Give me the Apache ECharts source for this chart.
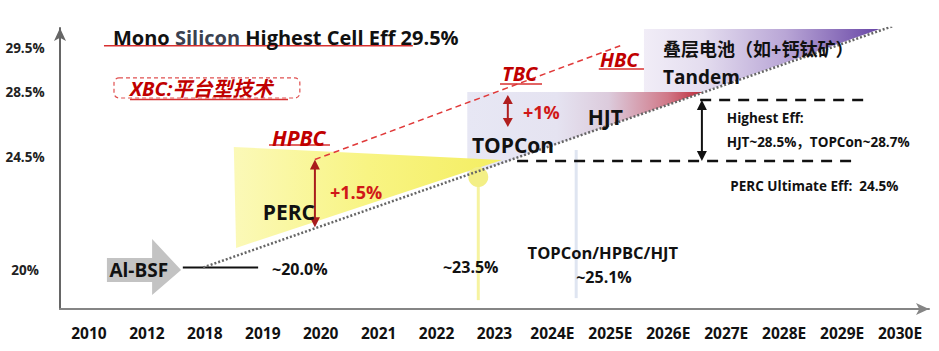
<!DOCTYPE html>
<html><head><meta charset="utf-8">
<script src="https://cdn.jsdelivr.net/npm/echarts@6/dist/echarts.min.js"></script>
<style>html,body{margin:0;padding:0;background:#fff}#c{width:939px;height:351px}</style>
</head><body><div id="c"></div>
<script>
// ---------- data ----------
const years = ['2010','2012','2018','2019','2020','2021','2022','2023','2024E','2025E','2026E','2027E','2028E','2029E','2030E'];
const yTickEffs = [20, 24.5, 28.5, 29.5];
const yTickLabels = ['20%','24.5%','28.5%','29.5%'];

// points are [year index, efficiency %]
const baselineTrend = [[1.97,20.1],[13.88,30.0]];
const xbcTrend = [[3.9,24.4],[9.17,29.55]];
const alBsfLevel = [[1.62,20.1],[2.92,20.1]];
const alBsfArrow = [[0.31,20.48],[1.09,20.48],[1.09,21.23],[1.59,20.0],[1.09,19.0],[1.09,19.52],[0.31,19.52]];
const percArea = [[2.50,25.12],[7.13,24.38],[2.54,20.88]];
const topconHjtArea = [[6.53,28.5],[10.6,28.5],[6.53,23.76]];
const tandemArea = [[9.58,29.93],[13.65,29.93],[10.6,28.5],[9.58,28.5]];
const perc2023Dot = [6.72,23.70];
const perc2023Stem = [[6.72,23.70],[6.72,18.8]];
const topcon2024Stem = [[8.41,24.93],[8.41,18.88]];
const highestEffLine = [[10.55,28.01],[13.43,28.01]];
const percLimitLine = [[7.39,24.34],[13.26,24.34]];
const highestEffGap = [[10.58,28.01],[10.58,24.34]];
const hpbcGain = [[3.9,24.4],[3.9,21.7]];
const tbcGain = [[7.23,28.32],[7.23,26.35]];

// ---------- axis scale (non-linear efficiency axis) ----------
const yScale = {effs:[20,24.5,28.5,29.5], units:[39,152,217,261], max:281};
function yv(e){
  const E=yScale.effs,U=yScale.units;
  let i=0; while(i<E.length-2 && e>E[i+1]) i++;
  return U[i]+(e-E[i])*(U[i+1]-U[i])/(E[i+1]-E[i]);
}
const P = p => [p[0], yv(p[1])];

const F = "'Open Sans','Noto Sans CJK SC',sans-serif";
const RED = '#c00000';
const notes = [
  {t:'Mono Silicon Highest Cell Eff 29.5%', at:[0.414,29.75], s:20, c:'#111', rich:true},
  {t:'XBC:平台型技术', at:[0.708,28.59], s:20, c:RED, it:true},
  {t:'HPBC', at:[3.16,25.67], s:21, c:RED, it:true},
  {t:'+1.5%', at:[4.16,23.11], s:18, c:'#d01818'},
  {t:'PERC', at:[3.0,22.31], s:21, c:'#111'},
  {t:'Al-BSF', at:[0.86,20.0], s:19, c:'#111', a:'center'},
  {t:'~20.0%', at:[3.16,20.04], s:16, c:'#111'},
  {t:'~23.5%', at:[6.11,20.12], s:16, c:'#111'},
  {t:'TOPCon/HPBC/HJT', at:[8.87,20.68], s:16.5, c:'#111', a:'center'},
  {t:'~25.1%', at:[8.89,19.72], s:16, c:'#111', a:'center'},
  {t:'TOPCon', at:[6.61,25.24], s:21, c:'#111'},
  {t:'+1%', at:[7.49,27.27], s:18, c:'#d01818'},
  {t:'HJT', at:[8.61,26.96], s:21, c:'#111'},
  {t:'TBC', at:[7.13,28.93], s:20, c:RED, it:true},
  {t:'HBC', at:[8.82,29.23], s:20, c:RED, it:true},
  {t:'叠层电池（如+钙钛矿）', at:[9.91,29.48], s:18, c:'#111'},
  {t:'Tandem', at:[9.91,28.84], s:19, c:'#111'},
  {t:'Highest Eff:', at:[11.01,26.90], s:13.5, c:'#111'},
  {t:'HJT~28.5%，TOPCon~28.7%', at:[11.01,25.42], s:13.5, c:'#111'},
  {t:'PERC Ultimate Eff:  24.5%', at:[11.07,23.35], s:13.5, c:'#111'}
];
const underlines = [
  [0.259,5.59,29.55],[0.708,3.435,28.04],[3.107,4.16,25.24],[7.095,7.82,28.68],[8.80,9.58,29.02]
];
const xbcBox = [[0.432,28.82],[3.64,28.13]];

const LG = (stops)=>new echarts.graphic.LinearGradient(0,0,1,0,stops.map(c=>({offset:c[0],color:c[1]})));

function custom(z, render){
  return {type:'custom', xAxisIndex:1, yAxisIndex:0, z, silent:true, data:[[0,0]], renderItem:(p,api)=>render(api)};
}
function poly(api, pts, fill){
  return {type:'polygon', shape:{points:pts.map(p=>api.coord(P(p)))}, style:{fill}};
}
function seg(api, s, stroke, w){
  const a=api.coord(P(s[0])), b=api.coord(P(s[1]));
  return {type:'line', shape:{x1:a[0],y1:a[1],x2:b[0],y2:b[1]}, style:{stroke, lineWidth:w}};
}
function vArrow(api, s, color, w, hw, hl){
  const a=api.coord(P(s[0])), b=api.coord(P(s[1]));
  const x=a[0], yt=Math.min(a[1],b[1]), yb=Math.max(a[1],b[1]);
  return {type:'group', children:[
    {type:'line', shape:{x1:x,y1:yt+hl-1,x2:x,y2:yb-hl+1}, style:{stroke:color,lineWidth:w}},
    {type:'polygon', shape:{points:[[x,yt],[x-hw,yt+hl],[x+hw,yt+hl]]}, style:{fill:color}},
    {type:'polygon', shape:{points:[[x,yb],[x-hw,yb-hl],[x+hw,yb-hl]]}, style:{fill:color}}
  ]};
}
function lineSeries(data, style, z){
  return {type:'line', xAxisIndex:1, yAxisIndex:0, z, silent:true, symbol:'none', data:data.map(P), lineStyle:style};
}
function noteEl(api, n){
  const c=api.coord(P(n.at));
  const st={fill:n.c, fontSize:n.s, fontWeight:'bold', fontStyle:n.it?'italic':'normal', fontFamily:F, align:n.a||'left', verticalAlign:'middle'};
  if(n.rich){
    const w=n.t.split(' ');
    st.text='{a|'+w[0]+' }{b|'+w[1]+'}{a| '+w.slice(2).join(' ')+'}';
    st.rich={a:{fill:n.c,fontSize:n.s,fontWeight:'bold',fontFamily:F}, b:{fill:'#3a4150',fontSize:n.s,fontWeight:'bold',fontFamily:F}};
  } else st.text=n.t;
  return {type:'text', x:c[0], y:c[1], style:st};
}

const chart = echarts.init(document.getElementById('c'), null, {renderer:'svg'});
chart.setOption({
  animation:false,
  backgroundColor:'#fff',
  grid:{left:60, right:10, top:28, bottom:42},
  xAxis:[
    {type:'category', data:years, axisTick:{show:false},
     axisLine:{show:true, onZero:false, symbol:['none','arrow'], symbolSize:[9,13], lineStyle:{color:'#858585', width:2}},
     axisLabel:{interval:0, hideOverlap:false, margin:16, fontSize:15.5, fontWeight:'bold', color:'#111', fontFamily:F}},
    {type:'value', min:-0.5, max:14.5, show:false}
  ],
  yAxis:{type:'value', min:0, max:yScale.max, splitLine:{show:false}, axisTick:{show:false},
    axisLine:{show:true, onZero:false, symbol:['none','arrow'], symbolSize:[9,13], lineStyle:{color:'#666', width:2}},
    axisLabel:{customValues:yTickEffs.map(yv), align:'center', margin:35, fontSize:13.5, fontWeight:'bold', color:'#222', fontFamily:F,
      formatter:v=>{const i=yTickEffs.findIndex(e=>Math.abs(yv(e)-v)<0.01); return i>=0?yTickLabels[i]:'';}}},
  series:[
    custom(1, api=>({type:'group', children:[
      poly(api, tandemArea, LG([[0,'#f1edf7'],[0.25,'#e4ddef'],[0.6,'#b9a6d6'],[1,'#6846a6']])),
      poly(api, topconHjtArea, LG([[0,'#e7e7f4'],[0.38,'#e5e3f1'],[0.6,'#dccbdc'],[0.85,'#d07888'],[1,'#bd2838']])),
      seg(api, topcon2024Stem, '#dfe5f1', 3),
      poly(api, percArea, LG([[0,'#fbf9b8'],[0.5,'#f8f483'],[1,'#f4ee62']])),
      seg(api, perc2023Stem, '#f6f3a0', 3),
      (()=>{const c=api.coord(P(perc2023Dot));return {type:'circle', shape:{cx:c[0],cy:c[1],r:10}, style:{fill:'#f3ef86'}};})(),
      poly(api, alBsfArrow, '#c3c3c3')
    ]})),
    lineSeries(alBsfLevel, {color:'#111', width:2}, 3),
    lineSeries(baselineTrend, {color:'#666', width:2.5, type:[2,2]}, 4),
    lineSeries(xbcTrend, {color:'#e03a3a', width:1.5, type:[6,4]}, 4),
    lineSeries(highestEffLine, {color:'#111', width:2.5, type:[11,8]}, 4),
    lineSeries(percLimitLine, {color:'#111', width:2.5, type:[11,8]}, 4),
    custom(6, api=>({type:'group', children:[
      vArrow(api, hpbcGain, '#a81c1c', 2, 5, 10),
      vArrow(api, tbcGain, '#b01e1e', 2, 5, 9),
      vArrow(api, highestEffGap, '#111', 2, 5, 10),
      ...underlines.map(u=>seg(api, [[u[0],u[2]],[u[1],u[2]]], '#d83030', 1.5)),
      (()=>{const a=api.coord(P(xbcBox[0])),b=api.coord(P(xbcBox[1]));
        return {type:'rect', shape:{x:a[0],y:a[1],width:b[0]-a[0],height:b[1]-a[1],r:5}, style:{fill:'none',stroke:'#e05050',lineWidth:1.2,lineDash:[4,3]}};})(),
      ...notes.map(n=>noteEl(api, n))
    ]}))
  ]
});
</script></body></html>
